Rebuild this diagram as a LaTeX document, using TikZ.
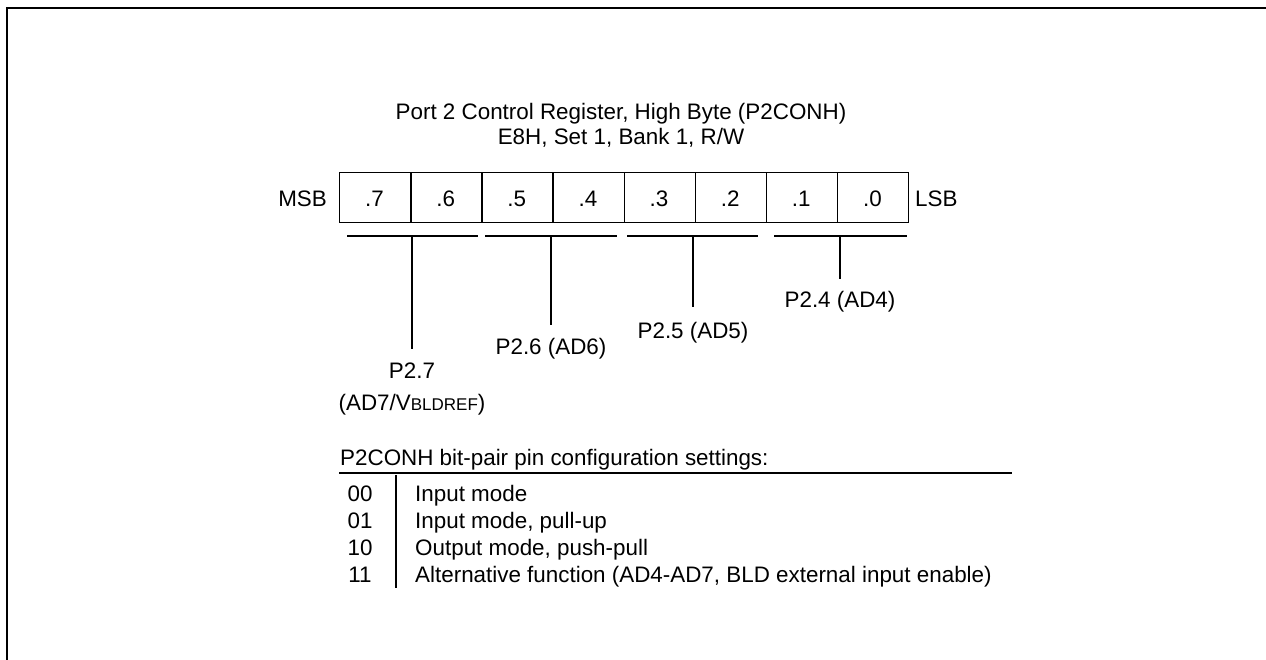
\documentclass[tikz,border=0pt]{standalone}
\usepackage{fontspec}
\setmainfont{Liberation Sans}
\begin{document}
\begin{tikzpicture}[x=1pt,y=-1pt,
  txt/.style={inner sep=0pt,font=\fontsize{22.4}{26}\selectfont},
  cell/.style={draw,line width=1.4pt,minimum width=71.125pt,minimum height=50pt,inner sep=0pt,anchor=north west},
  seg/.style={line width=1.2pt},
  frame/.style={line width=2.8pt}]
\useasboundingbox (0,0) rectangle (1266,659);
\coordinate (f1) at (7,662);
\coordinate (f2) at (7,8);
\coordinate (f3) at (1270,8);
\draw[frame] (f1) -- (f2) -- (f3);
% title
\node[txt,anchor=base] (t1) at (621,119) {Port 2 Control Register, High Byte (P2CONH)};
\node[txt,anchor=base] (t2) at (621,144) {E8H, Set 1, Bank 1, R/W};
% register cells
\foreach \i/\l in {0/.7,1/.6,2/.5,3/.4,4/.3,5/.2,6/.1,7/.0}{
  \node[cell] (c\i) at ({339+71.125*\i},172) {};
  \node[txt,anchor=base] (b\i) at ({339+71.125*(\i+0.5)},206) {\l};
}
\node[txt,anchor=base east] (msb) at (327,206) {MSB};
\node[txt,anchor=base west] (lsb) at (915,206) {LSB};
% pair underlines
\coordinate (u0a) at (347,236); \coordinate (u0b) at (478,236);
\coordinate (u1a) at (485,236); \coordinate (u1b) at (617,236);
\coordinate (u2a) at (627,236); \coordinate (u2b) at (758,236);
\coordinate (u3a) at (774,236); \coordinate (u3b) at (907,236);
\foreach \k in {0,1,2,3}{\draw[seg] (u\k a) -- (u\k b);}
\coordinate (v0a) at (412,236); \coordinate (v0b) at (412,349);
\coordinate (v1a) at (551,236); \coordinate (v1b) at (551,325);
\coordinate (v2a) at (693,236); \coordinate (v2b) at (693,307);
\coordinate (v3a) at (840,236); \coordinate (v3b) at (840,279);
\foreach \k in {0,1,2,3}{\draw[seg] (v\k a) -- (v\k b);}
\node[txt,anchor=base] (p7) at (412,378) {P2.7};
\node[txt,anchor=base] (p7b) at (412,410) {(AD7/V{\fontsize{17}{20}\selectfont BLDREF})};
\node[txt,anchor=base] (p6) at (551,354) {P2.6 (AD6)};
\node[txt,anchor=base] (p5) at (693,338) {P2.5 (AD5)};
\node[txt,anchor=base] (p4) at (840,307) {P2.4 (AD4)};
% settings table
\node[txt,anchor=base west] (st) at (340,465) {P2CONH bit-pair pin configuration settings:};
\coordinate (h1) at (339,473); \coordinate (h2) at (1012,473);
\draw[seg] (h1) -- (h2);
\coordinate (tv1) at (396,475); \coordinate (tv2) at (396,588);
\draw[seg] (tv1) -- (tv2);
\foreach \j/\c/\d in {0/00/Input mode,1/01/{Input mode, pull-up},2/10/{Output mode, push-pull},3/11/{Alternative function (AD4-AD7, BLD external input enable)}}{
  \node[txt,anchor=base] (k\j) at (360,{501+27.3*\j}) {\c};
  \node[txt,anchor=base west] (d\j) at (415,{501+27.3*\j}) {\d};
}
\end{tikzpicture}
\end{document}
